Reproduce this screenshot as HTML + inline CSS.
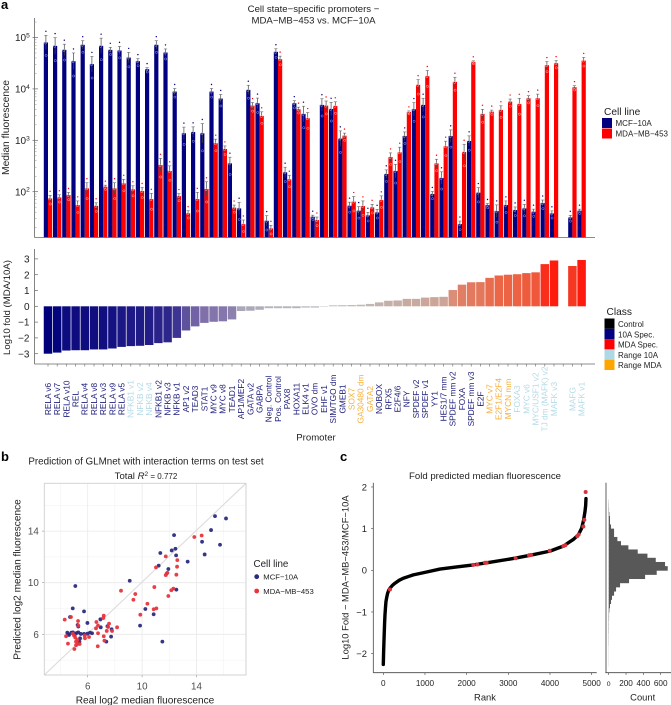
<!DOCTYPE html>
<html lang="en">
<head>
<meta charset="utf-8">
<title>Cell state-specific promoters</title>
<style>
html,body{margin:0;padding:0;background:#fff;}
svg{display:block;font-family:"Liberation Sans",sans-serif;}
</style>
</head>
<body>
<svg id="fig" width="671" height="705" viewBox="0 0 671 705">
  <rect width="671" height="705" fill="#fff"/>
  <g id="a-top"></g>
  <g id="a-fold"></g>
  <g id="b-plot"></g>
  <g id="c-plot"></g>
  <g id="c-hist"></g>

  <text x="1" y="9" font-size="13" font-weight="bold">a</text>
  <text x="1" y="461" font-size="13" font-weight="bold">b</text>
  <text x="340" y="461" font-size="13" font-weight="bold">c</text>

  <text x="313.5" y="12" font-size="9.6" text-anchor="middle" fill="#222">Cell state−specific promoters −</text>
  <text x="313.5" y="23.5" font-size="9.6" text-anchor="middle" fill="#222">MDA−MB−453 vs. MCF−10A</text>
  <text transform="translate(9,127.5) rotate(-90)" font-size="10.3" text-anchor="middle" fill="#222">Median fluorescence</text>
  <text transform="translate(10,307.5) rotate(-90)" font-size="9.6" text-anchor="middle" fill="#222">Log10 fold (MDA/10A)</text>
  <text x="316" y="440.5" font-size="9.6" text-anchor="middle" fill="#222">Promoter</text>

  <g>
    <text x="604" y="115" font-size="10.2" fill="#222">Cell line</text>
    <rect x="602" y="118" width="10" height="10" fill="#000080"/>
    <rect x="602" y="128.5" width="10" height="10" fill="#ff0000"/>
    <text x="615.5" y="126" font-size="8" fill="#222">MCF−10A</text>
    <text x="615.5" y="136.5" font-size="8" fill="#222">MDA−MB−453</text>
  </g>

  <g>
    <text x="606.5" y="315" font-size="10.2" fill="#222">Class</text>
    <rect x="604.5" y="318.5" width="10" height="10.3" fill="#000"/>
    <rect x="604.5" y="328.8" width="10" height="10.3" fill="#000080"/>
    <rect x="604.5" y="339.1" width="10" height="10.3" fill="#ff0000"/>
    <rect x="604.5" y="349.4" width="10" height="10.3" fill="#add8e6"/>
    <rect x="604.5" y="359.7" width="10" height="10.3" fill="#ffa500"/>
    <text x="618" y="327" font-size="8" fill="#222">Control</text>
    <text x="618" y="337.3" font-size="8" fill="#222">10A Spec.</text>
    <text x="618" y="347.6" font-size="8" fill="#222">MDA Spec.</text>
    <text x="618" y="357.9" font-size="8" fill="#222">Range 10A</text>
    <text x="618" y="368.2" font-size="8" fill="#222">Range MDA</text>
  </g>

  <text x="146" y="464.5" font-size="9.8" text-anchor="middle" fill="#222">Prediction of GLMnet with interaction terms on test set</text>
  <text x="146" y="479" font-size="9.6" text-anchor="middle" fill="#222">Total <tspan font-style="italic">R</tspan><tspan dy="-3" font-size="6.5">2</tspan><tspan dy="3" font-size="8"> = 0.772</tspan></text>
  <text x="145" y="703.5" font-size="10.1" text-anchor="middle" fill="#222">Real log2 median fluorescence</text>
  <text transform="translate(20.5,579.5) rotate(-90)" font-size="10.1" text-anchor="middle" fill="#222">Predicted log2 median fluorescence</text>
  <g>
    <text x="253.5" y="567" font-size="9.8" fill="#222">Cell line</text>
    <circle cx="256.7" cy="576.7" r="2.4" fill="#2b2a80"/>
    <circle cx="256.7" cy="591" r="2.4" fill="#e8343c"/>
    <text x="263.3" y="579.5" font-size="7.7" fill="#222">MCF−10A</text>
    <text x="263.3" y="594" font-size="7.7" fill="#222">MDA−MB−453</text>
  </g>

  <text x="485" y="479" font-size="9.6" text-anchor="middle" fill="#222">Fold predicted median fluorescence</text>
  <text transform="translate(348.5,577.5) rotate(-90)" font-size="9.4" text-anchor="middle" fill="#222">Log10 Fold − MDA−MB−453/MCF−10A</text>
  <text x="485" y="700.5" font-size="9.4" text-anchor="middle" fill="#222">Rank</text>
  <text x="642.7" y="700.5" font-size="9.4" text-anchor="middle" fill="#222">Count</text>
</svg>

<script>
// ---------- Panel a data ----------
const promoters = ["RELA v6","RELA v7","RELA v10","REL","RELA v4","RELA v8","RELA v3","RELA v9","RELA v5","NFKB1 v1","NFKB v2","NFKB v4","NFKB1 v2","NFKB v3","NFKB v1","AP1 v2","TEAD3","STAT1","MYC v9","MYC v8","TEAD1","AP1/MEF2","GATA v2","GABPA","Neg. Control","Pos. Control","PAX8","HOXA11","ELK4 v1","OVO dm","EHF v1","SIM/TGO dm","GMEB1","SOX7","GA30480 dm","GATA2","NOBOX","RFX5","E2F4/6","NFY","SPDEF v2","SPDEF v1","YY1","HES1/7 mm","SPDEF mm v2","FOXA","SPDEF mm v3","E2F","MYC v7","E2F1/E2F4","MYCN mm","FOXA3","MYC v6","MYC/USF1 v2","TJ dm (MAFK) v2","MAFK v3","","MAFG","MAFK v1"];
const promoterClass = ["s","s","s","s","s","s","s","s","s","l","l","l","s","s","s","s","s","s","s","s","s","s","s","s","s","s","s","s","s","s","s","s","s","o","o","o","s","s","s","s","s","s","s","s","s","s","s","s","o","o","o","l","l","l","l","l","","l","l"];
const mcf10aValues = [80000,68800,57500,34600,72000,30300,68800,57500,55900,40700,34600,24200,72000,51000,8870,1370,1450,1370,8870,6490,356,47.3,9570,5260,27.2,52600,238,5260,3260,32.6,4880,4070,1080,53.3,42.7,34.6,39.5,221,253,1210,4020,4880,90,185,1210,23.4,970,95.7,55,42,55,44,47.3,40.8,60,37.8,null,31.6,42.7];
const mda453Values = [74,77.6,86,55,116,53,125,116,145,111,103,72,331,253,82,38,72,113,875,678,49,23.4,4730,2980,19.3,37800,174,4020,2690,28,4730,4670,1230,64,52.6,49.5,69,473,583,3560,12000,17700,356,764,13700,593,33600,3260,3610,3900,5660,5100,6580,6580,28900,31600,null,10800,35600];
const mcf10aErrLog = [.14,.16,.11,.16,.08,.15,.15,.05,.08,.10,.05,.03,.08,.07,.06,.12,.10,.19,.06,.08,.12,.12,.09,.10,.10,.06,.10,.05,.15,.03,.12,.13,.15,.07,.08,.06,.06,.08,.13,.08,.13,.13,.05,.12,.12,.06,.10,.10,.03,.12,.08,.06,.08,.05,.06,.05,null,.04,.03];
const mda453ErrLog = [.06,.05,.05,.08,.11,.06,.03,.11,.08,.07,.07,.11,.13,.10,.05,.05,.13,.14,.08,.06,.05,.08,.06,.08,.06,.06,.08,.04,.11,.06,.09,.08,.05,.10,.10,.06,.08,.08,.10,.02,.10,.11,.08,.10,.09,.15,.02,.09,.03,.08,.05,.11,.05,.08,.07,.05,null,.03,.06];
const log10Fold = [-3,-2.93,-2.8,-2.78,-2.78,-2.73,-2.73,-2.67,-2.57,-2.52,-2.5,-2.45,-2.33,-2.28,-2,-1.53,-1.27,-1.05,-.98,-.95,-.83,-.3,-.28,-.22,-.12,-.12,-.12,-.12,-.08,-.08,-.02,.06,.07,.08,.1,.15,.25,.35,.37,.47,.47,.55,.58,.6,1.03,1.37,1.52,1.53,1.8,1.95,2,2.03,2.1,2.15,2.67,2.9,null,2.55,2.93];
const logTickExponents = [5,4,3,2];
const minorDecades = [10,100,1000,10000,100000];
const minorMultipliers = [2,3,4,5,6,7,8,9];
const foldTicks = [3,2,1,0,-1,-2,-3];

// ---------- Panel b data ----------
const mcfRealX = [15.36,16.17,15.07,12.35,14.41,15.73,12.45,12.18,11.34,14.6,12.5,13.35,11.22,11.93,9.09,5.09,12.52,4.9,10.24,5.73,10.85,4.7,5.98,9.85,6.93,6.96,7.45,7.76,7.72,7.37,11.49,4.5,4.63,4.8,4.92,5.19,5.31,5.26,5.31,5.49,5.73,5.98,6.17,6.32,5.44,5.39,4.58,5.07];
const mcfPredY = [15.16,14.98,14.08,13.69,13.17,12.94,12.63,12.5,12.3,12.19,12.12,11.63,11.32,11.06,10.15,9.74,9.46,8.01,7.96,7.78,7.55,7.34,6.88,6.67,7.16,6.54,6.62,6.39,5.82,5.43,5.43,6.13,5.95,6.13,6.15,6.1,6.15,6.72,6.6,6.03,6.03,6.05,6.13,6.08,5.69,5.43,6,6];
const mdaRealX = [13.84,14.38,11.74,12.59,12.57,11.02,12.52,11.86,11.74,11.8,8.45,10.9,12.3,12.15,11.93,9.5,9.36,10.39,11.05,10.85,9.87,4.31,4.77,5.29,5.31,6.64,7.18,7.15,7.57,6.76,7.5,8.16,6.61,7.4,7.79,6.76,7.18,7.23,6.1,5.78,5.8,6.74,4.41,4.55,5.02,5.14,5.26,5.41,5,5.09,5.24,4.9,5.14];
const mdaPredY = [13.54,13.66,12.04,11.75,11.24,11.19,10.62,10.77,10.59,10.7,9.38,9.66,9.54,9.41,8.97,9.12,8.68,8.37,8.01,7.94,7.52,7.14,7.34,7.03,6.67,6.95,7.45,7.26,6.83,6.67,6.57,6.54,6.46,6.26,6.26,6.08,5.85,5.51,5.79,5.9,5.69,5.07,5.85,5.28,4.86,5.15,5.25,5.25,5.9,5.74,5.56,6.05,5.43];
const scatterMajorTicks = [6,10,14];
const scatterMinorTicks = [4,8,12,16];

// ---------- Panel c data ----------
const rankValues = [0,4,8,16,24,32,40,52,64,84,104,130,160,220,280,380,480,600,720,860,1000,1360,1760,2160,2480,3160,3520,4000,4320,4560,4680,4760,4808,4840,4856,4864];
const foldValues = [-2.26,-2.1,-1.95,-1.7,-1.47,-1.25,-1.07,-.9,-.75,-.64,-.55,-.48,-.43,-.36,-.31,-.24,-.19,-.15,-.11,-.08,-.05,.03,.08,.13,.18,.29,.36,.46,.58,.74,.85,1.01,1.21,1.41,1.55,1.72];
const testRanks = [160,2160,2256,2440,2480,3176,3496,3544,3992,4320,4368,4656,4688,4800,4824,4856];
const testFolds = [-.46,.13,.14,.18,.18,.29,.36,.37,.47,.58,.6,.82,.86,1.05,1.21,1.88];
const rankTicks = [0,1000,2000,3000,4000,5000];
const rankFoldTicks = [2,1,0,-1,-2];
const histBinLower = [-2.3,-2.2,-2.1,-2,-1.9,-1.8,-1.7,-1.6,-1.5,-1.4,-1.3,-1.2,-1.1,-1,-.9,-.8,-.7,-.6,-.5,-.4,-.3,-.2,-.1,0,.1,.2,.3,.4,.5,.6,.7,.8,.9,1,1.1,1.2,1.3,1.4,1.5,1.6];
const histCounts = [1,1,1,1,1,2,2,2,3,3,3,4,4,8,15,27,38,62,85,131,235,420,554,681,650,543,447,335,227,142,100,62,62,27,15,15,8,4,3,2];
const countTicks = [0,200,400,600];

// ---------- helpers ----------
const NS = 'http://www.w3.org/2000/svg';
function mk(parent, tag, props, txt) {
  const el = document.createElementNS(NS, tag);
  for (const k in props) el.setAttribute(k, props[k]);
  if (txt !== undefined) el.textContent = txt;
  parent.appendChild(el);
  return el;
}
const fmtMinus = v => String(v).replace('-', '−');

// ---------- Panel a: top ----------
const gTop = document.getElementById('a-top');
const yLog = v => 37.5 + (5 - Math.log10(v)) * 51.4;
const xSlot = i => 48 + 9.2 * i;
const topBase = 237.5;

function drawPair(values, errs, offset, fill, ring, seriesName) {
  values.forEach((v, i) => {
    if (v === null) return;
    const cx = xSlot(i) + offset;
    const top = yLog(v);
    const bar = mk(gTop, 'rect', {x: cx - 2.1, y: top, width: 4.2, height: topBase - top, fill: fill});
    
    
    const hi = yLog(v * Math.pow(10, errs[i]));
    const lo = yLog(v / Math.pow(10, errs[i]));
    const stem = mk(gTop, 'line', {x1: cx, x2: cx, y1: hi, y2: lo, stroke: '#444', 'stroke-width': 0.7});
    
    
    const cap = mk(gTop, 'line', {x1: cx - 1.6, x2: cx + 1.6, y1: hi, y2: hi, stroke: '#666', 'stroke-width': 0.6});
    
    
    const star = mk(gTop, 'circle', {cx: cx, cy: hi - 4, r: 0.7, fill: fill});
    
    
    const r1 = mk(gTop, 'circle', {cx: cx - 0.4, cy: top + 0.5, r: 1.1, fill: 'none', stroke: ring, 'stroke-width': 0.5});
    
    
    const r2 = mk(gTop, 'circle', {cx: cx + 0.2, cy: yLog(v / Math.pow(10, errs[i] * 1.8)), r: 1.1, fill: 'none', stroke: ring, 'stroke-width': 0.5});
    
    
  });
}
drawPair(mcf10aValues, mcf10aErrLog, -2.1, '#000080', '#9aa4e0', 'mcf-10a');
drawPair(mda453Values, mda453ErrLog, 2.1, '#ff0000', '#ffb4b4', 'mda-mb-453');

const topYAxis = mk(gTop, 'line', {x1: 34.5, x2: 34.5, y1: 18, y2: topBase, stroke: '#666', 'stroke-width': 0.8});


const topXAxis = mk(gTop, 'line', {x1: 34.5, x2: 595, y1: topBase, y2: topBase, stroke: '#666', 'stroke-width': 0.8});



logTickExponents.forEach(e => {
  const y = yLog(Math.pow(10, e));
  const t = mk(gTop, 'line', {x1: 32.5, x2: 38, y1: y, y2: y, stroke: '#666', 'stroke-width': 0.7});
  
  
  const lab = mk(gTop, 'text', {x: 15, y: y + 3.6, 'font-size': 10, fill: '#222'}, '10');
  
  
  mk(lab, 'tspan', {dy: -3.6, 'font-size': 6.6}, String(e));
});
minorDecades.forEach(d => {
  minorMultipliers.forEach(m => {
    const my = yLog(m * d);
    if (my < 18 || my > topBase) return;
    const mt = mk(gTop, 'line', {x1: 34.5, x2: 36.5, y1: my, y2: my, stroke: '#888', 'stroke-width': 0.5});
    
    
  });
});

// ---------- Panel a: fold ----------
const gFold = document.getElementById('a-fold');
const yFold = v => 306.3 - v * 15.8;
const foldStops = [[-3,0,0,122],[-2,62,53,146],[-1,130,115,171],[0,189,189,189],[.5,201,169,159],[1,217,143,122],[2,236,100,68],[3,255,20,8]];
function foldColor(v) {
  for (let k = 0; k < foldStops.length - 1; k++) {
    const a = foldStops[k], b = foldStops[k + 1];
    if (v <= b[0]) {
      const t = Math.max(0, (v - a[0]) / (b[0] - a[0]));
      return 'rgb(' + [1,2,3].map(j => Math.round(a[j] + (b[j] - a[j]) * t)).join(',') + ')';
    }
  }
  return 'rgb(255,20,8)';
}
log10Fold.forEach((v, i) => {
  if (v === null) return;
  const y0 = yFold(0), y1 = yFold(v);
  const bar = mk(gFold, 'rect', {x: xSlot(i) - 4.25, width: 8.5, y: Math.min(y0, y1), height: Math.max(Math.abs(y1 - y0), 0.4), fill: foldColor(v)});
  
  
});
const foldY = mk(gFold, 'line', {x1: 34.5, x2: 34.5, y1: 249, y2: 364, stroke: '#666', 'stroke-width': 0.8});


const foldX = mk(gFold, 'line', {x1: 34.5, x2: 595, y1: 364, y2: 364, stroke: '#666', 'stroke-width': 0.8});


foldTicks.forEach(v => {
  const y = yFold(v);
  const t = mk(gFold, 'line', {x1: 34.5, x2: 38, y1: y, y2: y, stroke: '#666', 'stroke-width': 0.7});
  
  
  const lab = mk(gFold, 'text', {x: 29.5, y: y + 3.6, 'font-size': 10, 'text-anchor': 'end', fill: '#222'}, fmtMinus(v));
  
  
});
const classColor = {s: '#22227f', l: '#b4dbe6', o: '#f7b03c'};
promoters.forEach((name, i) => {
  const x = xSlot(i);
  const t = mk(gFold, 'line', {x1: x, x2: x, y1: 364, y2: 366.5, stroke: '#666', 'stroke-width': 0.6});
  
  
  if (!name) return;
  const lab = mk(gFold, 'text', {transform: 'translate(' + (x + 2.9) + ',399) rotate(-90)', 'font-size': 8.3, 'text-anchor': 'middle', fill: classColor[promoterClass[i]]}, name);
  
  
});

// ---------- Panel b ----------
const gB = document.getElementById('b-plot');
const bx = v => 87.7 + (v - 6) * 13.6;
const by = v => 634.3 - (v - 6) * 12.9;
const bL = 44.3, bR = 246, bT = 483.3, bB = 675;
scatterMinorTicks.forEach(v => {
  const gx = mk(gB, 'line', {x1: bx(v), x2: bx(v), y1: bT, y2: bB, stroke: '#f0f0f0', 'stroke-width': 0.5});
  
  
  if (by(v) < bT) return;
  const gy = mk(gB, 'line', {x1: bL, x2: bR, y1: by(v), y2: by(v), stroke: '#f0f0f0', 'stroke-width': 0.5});
  
  
});
scatterMajorTicks.forEach(v => {
  const gx = mk(gB, 'line', {x1: bx(v), x2: bx(v), y1: bT, y2: bB, stroke: '#e9e9e9', 'stroke-width': 0.8});
  
  
  const gy = mk(gB, 'line', {x1: bL, x2: bR, y1: by(v), y2: by(v), stroke: '#e9e9e9', 'stroke-width': 0.8});
  
  
  const tx = mk(gB, 'text', {x: bx(v), y: 689.5, 'font-size': 9.8, 'text-anchor': 'middle', fill: '#4d4d4d'}, String(v));
  
  
  const ty = mk(gB, 'text', {x: 38.8, y: by(v) + 3.5, 'font-size': 9.8, 'text-anchor': 'end', fill: '#4d4d4d'}, String(v));
  
  
  const mx = mk(gB, 'line', {x1: bx(v), x2: bx(v), y1: bB, y2: bB + 2.2, stroke: '#888', 'stroke-width': 0.6});
  
  
  const my = mk(gB, 'line', {x1: bL - 2.2, x2: bL, y1: by(v), y2: by(v), stroke: '#888', 'stroke-width': 0.6});
  
  
});
const diag = mk(gB, 'line', {x1: bL, y1: bB, x2: bR, y2: bT, stroke: '#dcdcdc', 'stroke-width': 1.1});


const frame = mk(gB, 'rect', {x: bL, y: bT, width: bR - bL, height: bB - bT, fill: 'none', stroke: '#cfcfcf', 'stroke-width': 0.9});


mcfRealX.forEach((v, i) => {
  const p = mk(gB, 'circle', {cx: bx(v), cy: by(mcfPredY[i]), r: 1.9, fill: '#2b2a80', 'fill-opacity': 0.95});
  
  
});
mdaRealX.forEach((v, i) => {
  const p = mk(gB, 'circle', {cx: bx(v), cy: by(mdaPredY[i]), r: 1.9, fill: '#e8343c', 'fill-opacity': 0.95});
  
  
});

// ---------- Panel c: rank curve ----------
const gC = document.getElementById('c-plot');
const cx = v => 383.3 + v * 0.04167;
const cy = v => 570.3 - v * 41.67;
const curve = mk(gC, 'polyline', {points: rankValues.map((r, i) => cx(r).toFixed(2) + ',' + cy(foldValues[i]).toFixed(2)).join(' '), fill: 'none', stroke: '#000', 'stroke-width': 3.4, 'stroke-linecap': 'round', 'stroke-linejoin': 'round'});


testRanks.forEach((r, i) => {
  const p = mk(gC, 'circle', {cx: cx(r), cy: cy(testFolds[i]), r: 2, fill: '#d8333c'});
  
  
});
const cAxisY = mk(gC, 'line', {x1: 373.3, x2: 373.3, y1: 482.7, y2: 672.7, stroke: '#444', 'stroke-width': 0.8});


const cAxisX = mk(gC, 'line', {x1: 373.3, x2: 596.7, y1: 672.7, y2: 672.7, stroke: '#444', 'stroke-width': 0.8});


rankTicks.forEach(v => {
  const t = mk(gC, 'line', {x1: cx(v), x2: cx(v), y1: 672.7, y2: 675, stroke: '#444', 'stroke-width': 0.6});
  
  
  const lab = mk(gC, 'text', {x: cx(v), y: 686, 'font-size': 8.2, 'text-anchor': 'middle', fill: '#222'}, String(v));
  
  
});
rankFoldTicks.forEach(v => {
  const t = mk(gC, 'line', {x1: 371, x2: 373.3, y1: cy(v), y2: cy(v), stroke: '#444', 'stroke-width': 0.6});
  
  
  const lab = mk(gC, 'text', {x: 367, y: cy(v) + 3.4, 'font-size': 9.4, 'text-anchor': 'end', fill: '#222'}, fmtMinus(v));
  
  
});

// ---------- Panel c: histogram ----------
const gH = document.getElementById('c-hist');
const hx = v => 608.7 + v * 0.08667;
histBinLower.forEach((v, i) => {
  const top = cy(v + 0.1), bot = cy(v);
  const b = mk(gH, 'rect', {x: hx(0), y: top, width: hx(histCounts[i]) - hx(0), height: bot - top + 0.4, fill: '#585858'});
  
  
});
const hAxisY = mk(gH, 'line', {x1: 606, x2: 606, y1: 482.7, y2: 672.7, stroke: '#a8a8a8', 'stroke-width': 1.8});


const hAxisX = mk(gH, 'line', {x1: 605.5, x2: 671, y1: 672.7, y2: 672.7, stroke: '#444', 'stroke-width': 0.8});


countTicks.forEach(v => {
  const t = mk(gH, 'line', {x1: hx(v), x2: hx(v), y1: 672.7, y2: 675, stroke: '#444', 'stroke-width': 0.6});
  
  
  const lab = mk(gH, 'text', {x: hx(v), y: 686, 'font-size': v === 0 ? 6.8 : 8.2, 'text-anchor': 'middle', fill: '#222'}, String(v));
  
  
});
</script>
</body>
</html>
